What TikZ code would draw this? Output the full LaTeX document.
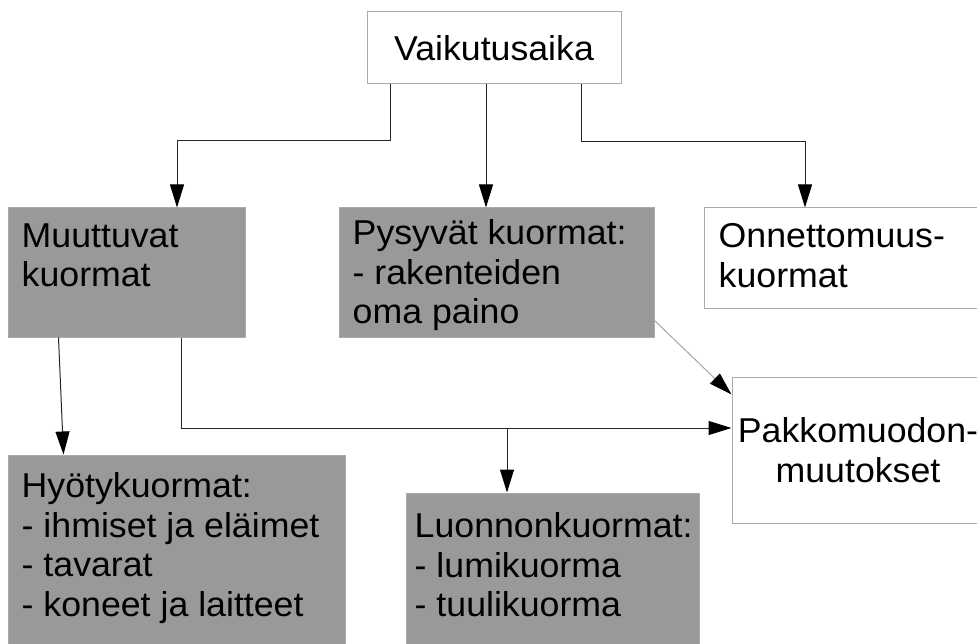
\documentclass[tikz,border=0pt]{standalone}
\usepackage{fontspec}
\setmainfont[FakeStretch=1.035]{Liberation Sans}
\usetikzlibrary{arrows.meta}
\definecolor{BoxGray}{HTML}{999999}
\definecolor{EdgeGray}{HTML}{ABABAB}

\begin{document}
\begin{tikzpicture}[x=1pt, y=-1pt,
    every node/.style={font=\fontsize{34.5}{39.5}\selectfont},
    box/.style={draw=EdgeGray, line width=1pt, fill=white, inner sep=0pt},
    graybox/.style={box, fill=BoxGray},
    lbl/.style={anchor=north west, inner sep=0pt, align=left},
    conn/.style={line width=1pt, black!85, -{Triangle[length=23pt, width=14pt, color=black]}}]
    % Canvas
    \fill[white] (0,0) rectangle (977,644);
    \path[use as bounding box, clip] (0,0) rectangle (977,644);

    % Boxes
    \node[box, minimum width=254pt, minimum height=72pt] (vaik) at (494,48) {Vaikutusaika};
    \node[graybox, minimum width=237pt, minimum height=129pt, label={[lbl, xshift=14pt, yshift=-16pt]north west:{Muuttuvat\\kuormat}}] (muut) at (126.5,272.5) {};
    \node[graybox, minimum width=315pt, minimum height=129pt, label={[lbl, xshift=14pt, yshift=-12pt]north west:{Pysyvät kuormat:\\- rakenteiden\\oma paino}}] (pysy) at (496.5,272.5) {};
    \node[box, minimum width=291pt, minimum height=101pt, label={[lbl, xshift=15pt, yshift=-16pt]north west:{Onnettomuus-\\kuormat}}] (onne) at (849.5,258.5) {};
    \node[box, minimum width=252pt, minimum height=146pt, align=center] (pakko) at (858,450) {Pakkomuodon-\\muutokset};
    \node[graybox, minimum width=337pt, minimum height=205pt, label={[lbl, xshift=14pt, yshift=-18pt]north west:{Hyötykuormat:\\- ihmiset ja eläimet\\- tavarat\\- koneet ja laitteet}}] (hyot) at (176.5,557.5) {};
    \node[graybox, minimum width=293pt, minimum height=167pt, label={[lbl, xshift=9pt, yshift=-20pt]north west:{Luonnonkuormat:\\- lumikuorma\\- tuulikuorma}}] (luon) at (552.5,576.5) {};

    % Connectors
    \draw[conn] ([xshift=-103.5pt]vaik.south) -- ++(0,56) -| ([xshift=50.5pt]muut.north);
    \draw[conn] ([xshift=-8pt]vaik.south) -- ([xshift=-8pt]vaik.south |- pysy.north);
    \draw[conn] ([xshift=87pt]vaik.south) -- ++(0,57) -| ([xshift=-44.5pt]onne.north);
    \draw[conn] ([xshift=51pt]muut.south west) -- ([xshift=56pt]hyot.north west);
    \draw[conn] ([xshift=174pt]muut.south west) |- ([yshift=22pt]pakko.west);
    \coordinate (split) at (507,428);
    \draw[conn] (split) -- (split |- luon.north);
    \draw[conn, gray!70] ([yshift=17pt]pysy.south east) -- ([yshift=-18pt]pakko.north west);
\end{tikzpicture}
\end{document}
